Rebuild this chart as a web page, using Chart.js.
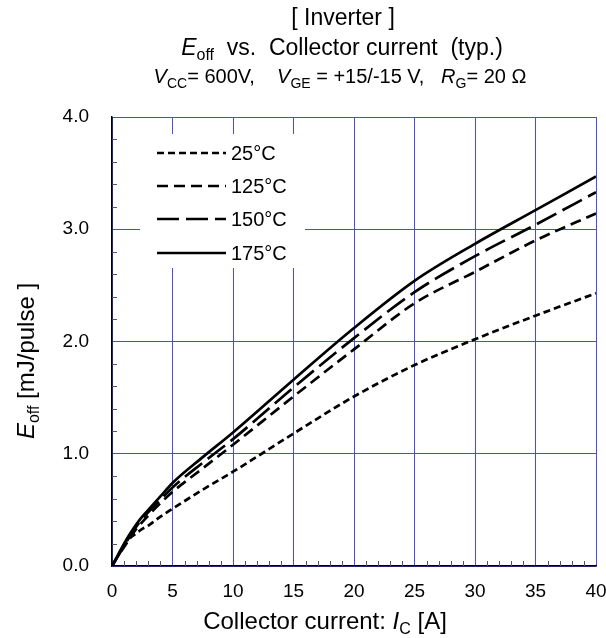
<!DOCTYPE html>
<html>
<head>
<meta charset="utf-8">
<script src="https://cdn.jsdelivr.net/npm/chart.js@4/dist/chart.umd.min.js"></script>
<style>
html,body{margin:0;padding:0;background:#fff;}
#wrap{position:relative;width:606px;height:638px;}
</style>
</head>
<body>
<div id="wrap"><canvas id="c" width="606" height="638"></canvas></div>
<script>
// ---- data ----
const currentA = [0, 0.5, 1, 1.5, 2, 2.5, 3, 4, 5, 7.5, 10, 15, 20, 25, 30, 35, 40];
const eoff25  = [0, 0.09, 0.19, 0.25, 0.29, 0.33, 0.36, 0.44, 0.51, 0.68, 0.84, 1.18, 1.51, 1.79, 2.02, 2.23, 2.43];
const eoff125 = [0, 0.09, 0.17, 0.25, 0.33, 0.39, 0.45, 0.56, 0.66, 0.87, 1.08, 1.51, 1.93, 2.34, 2.62, 2.90, 3.14];
const eoff150 = [0, 0.09, 0.18, 0.27, 0.35, 0.42, 0.48, 0.59, 0.70, 0.92, 1.13, 1.59, 2.03, 2.44, 2.76, 3.04, 3.33];
const eoff175 = [0, 0.10, 0.20, 0.29, 0.37, 0.44, 0.50, 0.62, 0.74, 0.97, 1.19, 1.66, 2.12, 2.54, 2.87, 3.17, 3.47];
const seriesLabels = ['25°C', '125°C', '150°C', '175°C'];
const xTickValues = [0, 5, 10, 15, 20, 25, 30, 35, 40];
const yTickValues = [0, 1, 2, 3, 4];

const FONT = '"Liberation Sans", Arial, Helvetica, sans-serif';
const GRID = '#4848f4';

function pts(ys){ return currentA.map((x,i)=>({x:x, y:ys[i]})); }

const dashes = [[7,4],[11,6],[22,7],[]];
const seriesData = [eoff25, eoff125, eoff150, eoff175];

function drawRich(ctx, segs, cx, cy, size){
  const subSize = Math.round(size*0.68);
  const fontFor = s => (s.italic ? 'italic ' : '') + (s.sub ? subSize : size) + 'px ' + FONT;
  let total = 0;
  segs.forEach(s=>{ ctx.font = fontFor(s); s.w = ctx.measureText(s.t).width; total += s.w; });
  let x = cx - total/2;
  ctx.textAlign = 'left';
  ctx.textBaseline = 'alphabetic';
  const base = cy + size*0.36;
  segs.forEach(s=>{
    ctx.font = fontFor(s);
    ctx.fillText(s.t, x, s.sub ? base + size*0.22 : base);
    x += s.w;
  });
}

const decor = {
  id: 'decor',
  afterDatasetsDraw(chart){
    const ctx = chart.ctx;
    const xs = chart.scales.x, ys = chart.scales.y;
    const a = chart.chartArea;
    ctx.save();
    // minor ticks (inside)
    ctx.strokeStyle = '#555';
    ctx.lineWidth = 1;
    ctx.beginPath();
    for(let v=1; v<40; v++){
      if(v%5===0) continue;
      const px = Math.round(xs.getPixelForValue(v))+0.5;
      ctx.moveTo(px, a.bottom); ctx.lineTo(px, a.bottom-5);
    }
    for(let k=1; k<20; k++){
      if(k%5===0) continue;
      const py = Math.round(ys.getPixelForValue(k*0.2))+0.5;
      ctx.moveTo(a.left, py); ctx.lineTo(a.left+5, py);
    }
    ctx.stroke();

    // legend box
    ctx.fillStyle = '#fff';
    ctx.fillRect(140, 134, 165, 134);
    const rows = [153, 186, 219, 253];
    chart.data.datasets.forEach((ds,i)=>{
      ctx.strokeStyle = '#000';
      ctx.lineWidth = ds.borderWidth;
      ctx.setLineDash(ds.borderDash || []);
      ctx.beginPath();
      ctx.moveTo(157, rows[i]); ctx.lineTo(226, rows[i]);
      ctx.stroke();
      ctx.setLineDash([]);
      ctx.fillStyle = '#000';
      ctx.font = '20px ' + FONT;
      ctx.textAlign = 'left';
      ctx.textBaseline = 'middle';
      ctx.fillText(ds.label, 231, rows[i]+1);
    });

    // titles
    ctx.fillStyle = '#000';
    drawRich(ctx, [{t:'[ Inverter ]'}], 343, 17, 23);
    drawRich(ctx, [{t:'E', italic:true},{t:'off', sub:true},{t:'  vs.  Collector current  (typ.)'}], 342, 47, 23);
    drawRich(ctx, [{t:'V', italic:true},{t:'CC', sub:true},{t:'= 600V,    '},
                   {t:'V', italic:true},{t:'GE', sub:true},{t:' = +15/-15 V,   '},
                   {t:'R', italic:true},{t:'G', sub:true},{t:'= 20 Ω'}], 340, 76, 20);
    // axis titles
    drawRich(ctx, [{t:'Collector current: '},{t:'I', italic:true},{t:'C', sub:true},{t:' [A]'}], 325, 620, 24);
    ctx.translate(25, 361);
    ctx.rotate(-Math.PI/2);
    drawRich(ctx, [{t:'E', italic:true},{t:'off', sub:true},{t:' [mJ/pulse ]'}], 0, 0, 24);
    ctx.restore();
  }
};

new Chart(document.getElementById('c'), {
  type: 'line',
  data: {
    datasets: seriesData.map((d,i)=>({
      label: seriesLabels[i],
      data: pts(d),
      borderColor: '#000',
      borderWidth: 2.7,
      borderDash: dashes[i],
      pointRadius: 0,
      fill: false,
      cubicInterpolationMode: 'monotone'
    }))
  },
  options: {
    responsive: false,
    animation: false,
    devicePixelRatio: 1,
    layout: { padding: { top: 117, right: 10, left: 0, bottom: 0 } },
    plugins: { legend: { display: false }, tooltip: { enabled: false }, title: { display: false } },
    scales: {
      x: {
        type: 'linear', min: 0, max: 40,
        afterBuildTicks: s => { s.ticks = xTickValues.map(v=>({value:v})); },
        afterFit: s => { s.height = 72; s.paddingLeft = 0; s.paddingRight = 0; },
        ticks: { font: { size: 19, family: FONT }, color: '#000', padding: 14, maxRotation: 0 },
        grid: { color: GRID, lineWidth: 1, drawTicks: false },
        border: { color: '#000', width: 1.5 }
      },
      y: {
        type: 'linear', min: 0, max: 4,
        afterBuildTicks: s => { s.ticks = yTickValues.map(v=>({value:v})); },
        afterFit: s => { s.width = 112; s.paddingTop = 0; s.paddingBottom = 0; },
        ticks: { font: { size: 19, family: FONT }, color: '#000', padding: 23, callback: v => Number(v).toFixed(1) },
        grid: { color: GRID, lineWidth: 1, drawTicks: false },
        border: { color: '#000', width: 1.5 }
      }
    }
  },
  plugins: [decor]
});
</script>
</body>
</html>
